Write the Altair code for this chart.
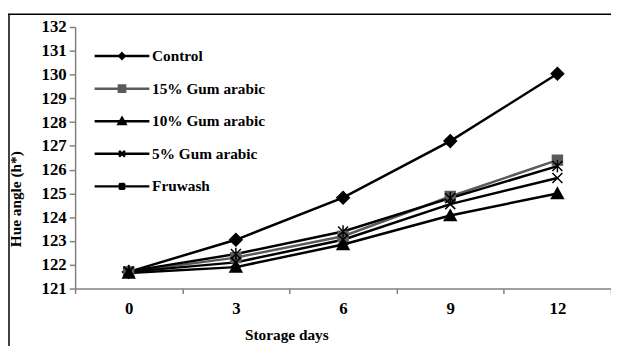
import altair as alt
import pandas as pd

days = [0, 3, 6, 9, 12]
series = ["Control", "15% Gum arabic", "10% Gum arabic", "5% Gum arabic", "Fruwash"]
control = [121.7, 123.05, 124.82, 127.2, 130.03]
gum15 = [121.7, 122.3, 123.2, 124.87, 126.4]
gum10 = [121.65, 121.9, 122.85, 124.07, 125.0]
gum5 = [121.7, 122.1, 123.05, 124.55, 125.65]
fruwash = [121.72, 122.45, 123.4, 124.8, 126.15]
y_ticks = list(range(121, 133))

colors = ["#000000", "#5a5a5a", "#000000", "#000000", "#000000"]
marker_paths = [
    "M0,-1L1,0L0,1L-1,0Z",
    "M-0.8,-0.8L0.8,-0.8L0.8,0.8L-0.8,0.8Z",
    "M0,-0.9L0.95,0.8L-0.95,0.8Z",
    "M-0.8,-0.8L0.8,0.8M-0.8,0.8L0.8,-0.8",
    "M-0.8,-0.8L0.8,0.8M-0.8,0.8L0.8,-0.8M0,-1L0,1",
]
legend_markers = [
    "M0,-0.3L0.3,0L0,0.3L-0.3,0Z",
    "M-0.34,-0.34L0.34,-0.34L0.34,0.34L-0.34,0.34Z",
    "M0,-0.36L0.38,0.3L-0.38,0.3Z",
    "M-0.32,-0.32L0.32,0.32M-0.32,0.32L0.32,-0.32",
    "M-0.32,-0.32L0.32,0.32M-0.32,0.32L0.32,-0.32M0,-0.4L0,0.4",
]
legend_paths = ["M-3,0L3,0" + m for m in legend_markers]

values = [control, gum15, gum10, gum5, fruwash]
rows = []
for s, vals in zip(series, values):
    for d, v in zip(days, vals):
        rows.append({"day": d, "value": v, "series": s})
df = pd.DataFrame(rows)

FONT = "Liberation Serif"

x_enc = alt.X(
    "day:O",
    sort=days,
    scale=alt.Scale(type="band", paddingInner=0, paddingOuter=0),
    axis=alt.Axis(
        title="Storage days",
        labelAngle=0,
        tickBand="extent",
        tickSize=5,
        labelPadding=7,
        labelFont=FONT,
        labelFontSize=17,
        labelFontWeight="bold",
        labelColor="black",
        titleFont=FONT,
        titleFontSize=15.5,
        titleFontWeight="bold",
        titleColor="black",
        titleX=214,
        titleY=47,
        titleBaseline="middle",
        titleAnchor="start",
        titleAlign="center",
        domainColor="#808080",
        tickColor="#808080",
        domainWidth=1.5,
        tickWidth=1.5,
        grid=False,
    ),
)
y_enc = alt.Y(
    "value:Q",
    scale=alt.Scale(domain=[121, 132], nice=False, zero=False),
    axis=alt.Axis(
        title="Hue angle (h*)",
        values=y_ticks,
        format="d",
        tickSize=6,
        labelPadding=3,
        labelFont=FONT,
        labelFontSize=17,
        labelFontWeight="bold",
        labelColor="black",
        titleFont=FONT,
        titleFontSize=15.5,
        titleFontWeight="bold",
        titleColor="black",
        titleX=-60,
        titleY=174,
        titleAngle=270,
        titleAlign="center",
        titleBaseline="middle",
        titleAnchor="start",
        domainColor="#808080",
        tickColor="#808080",
        domainWidth=1.5,
        tickWidth=1.5,
        grid=False,
    ),
)

cscale = alt.Scale(domain=series, range=colors)

lines = alt.Chart(df).mark_line(strokeWidth=2.5).encode(
    x=x_enc,
    y=y_enc,
    stroke=alt.Stroke("series:N", scale=cscale, legend=None),
)

points = alt.Chart(df).mark_point(size=160, strokeWidth=1.5, opacity=1).encode(
    x=x_enc,
    y=y_enc,
    shape=alt.Shape("series:N", scale=alt.Scale(domain=series, range=marker_paths), legend=None),
    fill=alt.Fill("series:N", scale=cscale, legend=None),
    stroke=alt.Stroke("series:N", scale=cscale, legend=None),
)

leg = alt.Legend(
    title=None,
    orient="none",
    legendX=37,
    legendY=19,
    labelFont=FONT,
    labelFontSize=15.5,
    labelFontWeight="bold",
    labelColor="black",
    symbolStrokeWidth=2.5,
    symbolSize=342,
    rowPadding=14,
    labelOffset=20,
)

legend_layer = alt.Chart(df).transform_filter("datum.value < 0").mark_point(
    size=342, strokeWidth=2.5, opacity=1
).encode(
    x=x_enc,
    y=y_enc,
    shape=alt.Shape("series:N", scale=alt.Scale(domain=series, range=legend_paths), legend=leg),
    fill=alt.Fill("series:N", scale=cscale, legend=leg),
    stroke=alt.Stroke("series:N", scale=cscale, legend=leg),
)

frame_df = pd.DataFrame({"k": [0]})
frame_top = alt.Chart(frame_df).mark_rule(color="black", strokeWidth=1.5).encode(
    x=alt.value(-68), x2=alt.value(560), y=alt.value(-13)
)
frame_left = alt.Chart(frame_df).mark_rule(color="black", strokeWidth=1.5).encode(
    x=alt.value(-67), y=alt.value(-13), y2=alt.value(340)
)

chart = (
    alt.layer(frame_top, frame_left, lines, points, legend_layer)
    .resolve_scale(shape="independent", fill="independent", stroke="independent")
    .properties(
        width=543,
        height=265,
        autosize=alt.AutoSizeParams(type="none"),
        padding={"left": 68, "top": 17, "right": 0, "bottom": 56},
        background="white",
    )
    .configure_view(stroke=None)
)

chart.save("out.html", embed_options={"renderer": "svg", "actions": False})
